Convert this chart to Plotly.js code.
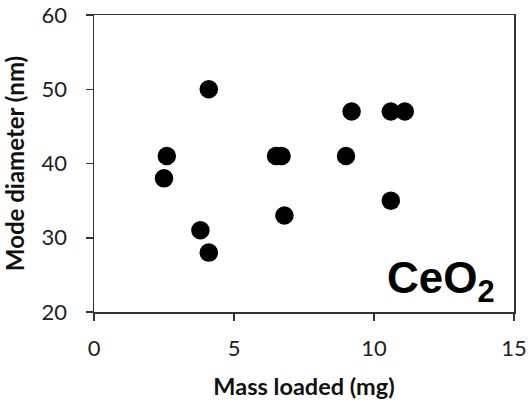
<!DOCTYPE html>
<html>
<head>
<meta charset="utf-8">
<script src="https://cdn.plot.ly/plotly-3.0.1.min.js"></script>
<style>html,body{margin:0;padding:0;background:#fff;}#chart{width:531px;height:406px;}</style>
</head>
<body>
<div id="chart"></div>
<script>
var massLoaded = [2.6, 2.5, 4.1, 3.8, 4.1, 6.5, 6.7, 6.8, 9.0, 9.2, 10.6, 11.1, 10.6];
var modeDiameter = [41, 38, 50, 31, 28, 41, 41, 33, 41, 47, 47, 47, 35];
var xTicks = [0, 5, 10, 15];
var yTicks = [20, 30, 40, 50, 60];
var xTitle = 'Mass loaded (mg)';
var yTitle = 'Mode diameter (nm)';
var label = 'CeO<sub>2</sub>';

var tickFont = {family: 'Lato, sans-serif', size: 22, color: '#222'};

var data = [{
  x: massLoaded, y: modeDiameter, type: 'scatter', mode: 'markers',
  marker: {color: '#000', size: 18.5},
  hoverinfo: 'skip'
}];
var axBase = {
  showline: true, mirror: true, linecolor: '#333', linewidth: 1.5,
  ticks: 'outside', ticklen: 7, tickwidth: 1.5, tickcolor: '#333',
  showgrid: false, zeroline: false, tickfont: tickFont
};
var layout = {
  width: 531, height: 406,
  margin: {l: 94, r: 17, t: 15, b: 94},
  paper_bgcolor: '#fff', plot_bgcolor: '#fff',
  showlegend: false,
  xaxis: Object.assign({}, axBase, {
    range: [0, 15], tickvals: xTicks, ticktext: xTicks.map(String),
    ticklabelstandoff: 9,
    title: {text: xTitle, font: {family: 'Lato, sans-serif', size: 23.5, color: '#111', weight: 'bold'}, standoff: 18}
  }),
  yaxis: Object.assign({}, axBase, {
    range: [20, 60], tickvals: yTicks, ticktext: yTicks.map(String),
    ticklabelstandoff: 14,
    title: {text: yTitle, font: {family: 'Lato, sans-serif', size: 24, color: '#111', weight: 'bold'}, standoff: 10}
  }),
  annotations: [{
    text: '<b>' + label + '</b>', xref: 'paper', yref: 'paper',
    x: 0.96, y: 0.005, xanchor: 'right', yanchor: 'bottom', showarrow: false,
    font: {family: 'Liberation Sans, Arial, sans-serif', size: 44, color: '#000'}
  }]
};
Plotly.newPlot('chart', data, layout, {staticPlot: true, displayModeBar: false});
</script>
</body>
</html>
